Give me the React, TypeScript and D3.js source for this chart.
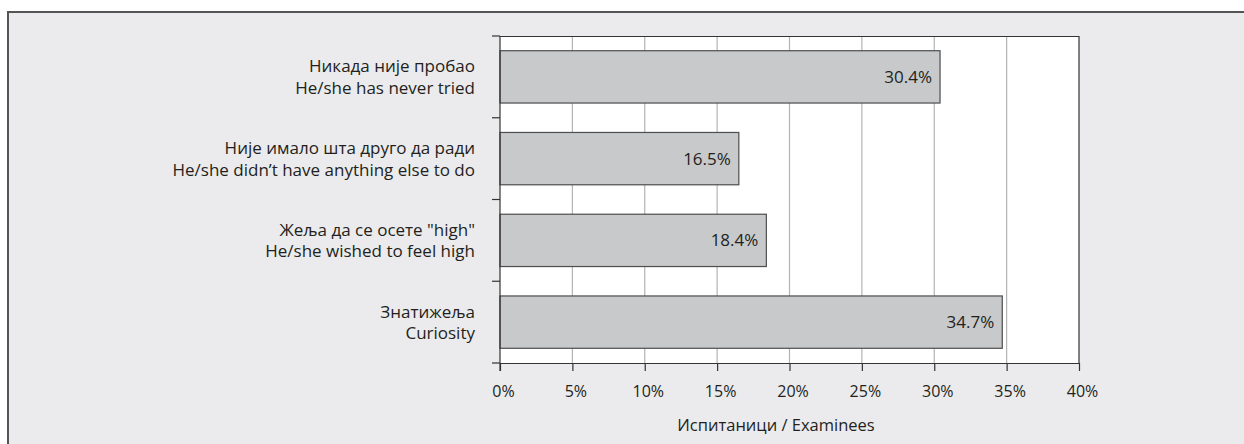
import * as d3 from "d3";
import { useEffect, useRef } from "react";

// categories, top to bottom
const labelsSr = ["Никада није пробао", "Није имало шта друго да ради", "Жеља да се осете \"high\"", "Знатижеља"];
const labelsEn = ["He/she has never tried", "He/she didn’t have anything else to do", "He/she wished to feel high", "Curiosity"];
const values = [30.4, 16.5, 18.4, 34.7];
const ticks = [0, 5, 10, 15, 20, 25, 30, 35, 40];
const axisTitle = "Испитаници / Examinees";

export default function App() {
  const svgRef = useRef<SVGSVGElement | null>(null);

  useEffect(() => {
    if (!svgRef.current) return;
    const svg = d3.select(svgRef.current);
    svg.selectAll("*").remove();

    const width = 1244;
    const height = 444;
    const marginTop = 36;
    const marginLeft = 500;
    const plotRight = 1079;
    const plotBottom = 363;
    const font = "'Open Sans', sans-serif";
    const ink = "#231f20";

    // outer frame
    svg.append("rect")
      .attr("x", 8).attr("y", 12)
      .attr("width", width).attr("height", height)
      .attr("fill", "#ebebed")
      .attr("stroke", "#555").attr("stroke-width", 2);

    const x = d3.scaleLinear().domain([0, 40]).range([marginLeft, plotRight]);
    const y = d3.scaleBand<number>()
      .domain(d3.range(values.length))
      .range([marginTop, plotBottom])
      .paddingInner(0.36)
      .paddingOuter(0.18);

    // plot background
    svg.append("rect")
      .attr("x", marginLeft).attr("y", marginTop)
      .attr("width", plotRight - marginLeft).attr("height", plotBottom - marginTop)
      .attr("fill", "#fff");

    // gridlines
    svg.append("g")
      .selectAll("line")
      .data(ticks.slice(1, -1))
      .join("line")
      .attr("x1", d => x(d)).attr("x2", d => x(d))
      .attr("y1", marginTop).attr("y2", plotBottom)
      .attr("stroke", "#b3b3b3").attr("stroke-width", 1.2);

    // top and right border
    svg.append("path")
      .attr("d", `M${marginLeft},${marginTop + 0.5}H${plotRight}V${plotBottom}`)
      .attr("fill", "none").attr("stroke", "#333").attr("stroke-width", 1.2);

    // bars
    svg.append("g")
      .selectAll("rect")
      .data(values)
      .join("rect")
      .attr("x", x(0))
      .attr("y", (_, i) => y(i)!)
      .attr("width", d => x(d) - x(0))
      .attr("height", y.bandwidth())
      .attr("fill", "#c8c9cb")
      .attr("stroke", "#4d4d4d").attr("stroke-width", 1.2);

    // value labels
    svg.append("g")
      .selectAll("text")
      .data(values)
      .join("text")
      .attr("x", d => x(d) - 8)
      .attr("y", (_, i) => y(i)! + y.bandwidth() / 2)
      .attr("dy", "0.36em")
      .attr("text-anchor", "end")
      .attr("font-family", font).attr("font-size", 17)
      .attr("fill", ink)
      .text(d => `${d.toFixed(1)}%`);

    // x axis
    const xAxis = svg.append("g")
      .attr("transform", `translate(0,${plotBottom})`)
      .call(d3.axisBottom(x).tickValues(ticks).tickSize(8).tickSizeOuter(0).tickFormat(d => `${d}%`));
    xAxis.select(".domain").attr("stroke", "#333").attr("stroke-width", 1.2);
    xAxis.selectAll(".tick line").attr("stroke", "#333").attr("stroke-width", 1.2);
    xAxis.selectAll(".tick text")
      .attr("font-family", font).attr("font-size", 16).attr("fill", ink)
      .attr("x", 3)
      .attr("y", 23);

    // y axis with ticks at band boundaries
    const step = (plotBottom - marginTop) / values.length;
    const bounds = d3.range(values.length + 1).map(i => marginTop + i * step);
    const yAxis = svg.append("g");
    yAxis.append("line")
      .attr("x1", marginLeft).attr("x2", marginLeft)
      .attr("y1", marginTop).attr("y2", plotBottom + 8)
      .attr("stroke", "#333").attr("stroke-width", 1.2);
    yAxis.selectAll("line.tick")
      .data(bounds)
      .join("line")
      .attr("class", "tick")
      .attr("x1", marginLeft - 8).attr("x2", marginLeft)
      .attr("y1", d => d).attr("y2", d => d)
      .attr("stroke", "#333").attr("stroke-width", 1.2);

    // category labels
    const lab = svg.append("g")
      .selectAll("text")
      .data(values)
      .join("text")
      .attr("text-anchor", "end")
      .attr("font-family", font).attr("font-size", 17)
      .attr("fill", ink);
    lab.append("tspan")
      .attr("x", 475)
      .attr("y", (_, i) => y(i)! + y.bandwidth() / 2 - 10.5)
      .attr("dy", "0.36em")
      .text((_, i) => labelsSr[i]);
    lab.append("tspan")
      .attr("x", 475)
      .attr("y", (_, i) => y(i)! + y.bandwidth() / 2 + 11)
      .attr("dy", "0.36em")
      .text((_, i) => labelsEn[i]);

    // axis title
    svg.append("text")
      .attr("x", 776)
      .attr("y", 425)
      .attr("dy", "0.36em")
      .attr("text-anchor", "middle")
      .attr("font-family", font).attr("font-size", 16.5)
      .attr("fill", ink)
      .text(axisTitle);
  }, []);

  return (
    <svg
      ref={svgRef}
      width={1244}
      height={444}
      style={{ position: "absolute", left: 0, top: 0, background: "#fff" }}
    />
  );
}
